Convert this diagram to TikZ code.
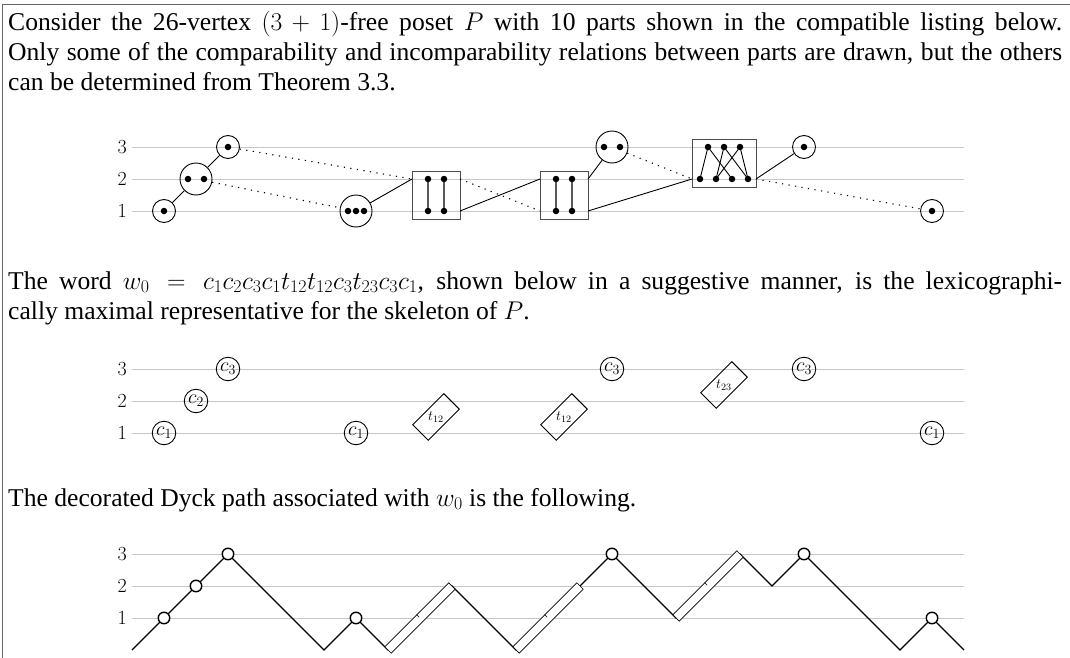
\RequirePackage{fix-cm}
\documentclass[tikz,border=0pt]{standalone}
\usepackage[no-math]{fontspec}
\setmainfont{Liberation Serif}
\usetikzlibrary{calc}
\begin{document}
\begin{tikzpicture}[x=1pt,y=-1pt,
  txt/.style={anchor=base west, inner sep=0, font=\fontsize{25.6}{30}\selectfont},
  lvl/.style={draw=black!22, line width=0.9},
  lbl/.style={anchor=east, inner sep=0, font=\fontsize{20}{20}\selectfont},
  pdot/.style={circle, fill=black, inner sep=0, minimum size=6.5},
  pc/.style={circle, draw, line width=0.9, inner sep=0, minimum size=23},
  pcb/.style={circle, draw, line width=0.9, inner sep=0, minimum size=32},
  pbox/.style={draw=black!70, line width=0.9, inner sep=0},
  rung/.style={draw=black!65, line width=1.3},
  rel/.style={line width=0.9},
  inc/.style={line width=1.1, dash pattern=on 1.2pt off 5.4pt},
  cw/.style={circle, draw, line width=0.9, inner sep=0, minimum size=23.5, font=\fontsize{20}{20}\selectfont},
  tw/.style={draw, rotate=45, minimum width=44, minimum height=22, inner sep=0, line width=0.9, font=\fontsize{14}{14}\selectfont},
  pk/.style={circle, draw, fill=white, line width=1.4, inner sep=0, minimum size=11.5},
  dk/.style={line width=1.3, line join=miter},
  tbox/.style={draw, fill=white, rotate=45, minimum width=90.5, minimum height=9, inner sep=0, line width=0.7},
  tick/.style={line width=0.7}
]
\useasboundingbox (0,0) rectangle (1070,658);
\draw[black!60, line width=1] (1070,5) -- (2.5,5) -- (2.5,658);

% ---------------- text ----------------
\node[txt] (s1) at (8,31) {\makebox[1054pt][s]{Consider the 26-vertex $(3+1)$-free poset $P$ with 10 parts shown in the compatible listing below.}};
\node[txt] (s2) at (8,61) {\makebox[1054pt][s]{Only some of the comparability and incomparability relations between parts are drawn, but the others}};
\node[txt] (s3) at (8,91) {can be determined from Theorem 3.3.};
\node[txt] (s4) at (8,289) {\makebox[1054pt][s]{The word $w_0=c_1c_2c_3c_1t_{12}t_{12}c_3t_{23}c_3c_1$, shown below in a suggestive manner, is the lexicographi-}};
\node[txt] (s5) at (8,319) {cally maximal representative for the skeleton of $P$.};
\node[txt] (s6) at (8,506) {The decorated Dyck path associated with $w_0$ is the following.};

% ---------------- diagram 1 ----------------
\foreach \y/\l in {147/3,179/2,211/1}{
  \draw[lvl] (132,\y) -- (964,\y);
  \node[lbl] (la\l) at (127,\y) {$\l$};
}
\node[pc] (p1) at (164,211) {};
\node[pdot] (p1a) at (164,211) {};
\node[pcb] (p2) at (196,179) {};
\node[pdot] (p2a) at (188,179) {};
\node[pdot] (p2b) at (204,179) {};
\node[pc] (p3) at (228,147) {};
\node[pdot] (p3a) at (228,147) {};
\node[pcb] (p4) at (356,211) {};
\node[pdot] (p4a) at (348,211) {};
\node[pdot] (p4b) at (356,211) {};
\node[pdot] (p4c) at (364,211) {};

\node[pbox, minimum width=48, minimum height=48] (b1) at (436,195) {};
\node[pdot] (b1a) at (428,179) {};
\node[pdot] (b1b) at (444,179) {};
\node[pdot] (b1c) at (428,211) {};
\node[pdot] (b1d) at (444,211) {};
\draw[rung] (b1a) -- (b1c);
\draw[rung] (b1b) -- (b1d);

\node[pbox, minimum width=48, minimum height=48] (b2) at (564,195) {};
\node[pdot] (b2a) at (556,179) {};
\node[pdot] (b2b) at (572,179) {};
\node[pdot] (b2c) at (556,211) {};
\node[pdot] (b2d) at (572,211) {};
\draw[rung] (b2a) -- (b2c);
\draw[rung] (b2b) -- (b2d);

\node[pcb] (p7) at (612,147) {};
\node[pdot] (p7a) at (604,147) {};
\node[pdot] (p7b) at (620,147) {};

\node[pbox, minimum width=64, minimum height=48] (b3) at (724,163) {};
\node[pdot] (u1) at (708,147) {};
\node[pdot] (u2) at (724,147) {};
\node[pdot] (u3) at (740,147) {};
\node[pdot] (v1) at (700,179) {};
\node[pdot] (v2) at (716,179) {};
\node[pdot] (v3) at (732,179) {};
\node[pdot] (v4) at (748,179) {};
\draw[rel] (u1.center) -- (v1.center);
\draw[rel] (u1.center) -- (v3.center);
\draw[rel] (u2.center) -- (v2.center);
\draw[rel] (u2.center) -- (v4.center);
\draw[rel] (u3.center) -- (v2.center);
\draw[rel] (u3.center) -- (v4.center);

\node[pc] (p9) at (804,147) {};
\node[pdot] (p9a) at (804,147) {};
\node[pc] (p10) at (932,211) {};
\node[pdot] (p10a) at (932,211) {};

\coordinate (b1w2) at (412,179);
\coordinate (b1e2) at (460,179);
\coordinate (b1e1) at (460,211);
\coordinate (b2w2) at (540,179);
\coordinate (b2w1) at (540,211);
\coordinate (b2e2) at (588,179);
\coordinate (b2e1) at (588,211);
\coordinate (b3w2) at (692,179);
\coordinate (b3e2) at (756,179);

\draw[rel] (p1) -- (p2);
\draw[rel] (p2) -- (p3);
\draw[inc] (p3) -- (b1w2);
\draw[inc] (p2) -- (p4);
\draw[rel] (p4) -- (b1w2);
\draw[rel] (b1e1) -- (b2w2);
\draw[inc] (b1e2) -- (b2w1);
\draw[rel] (b2e2) -- (p7);
\draw[rel] (b2e1) -- (b3w2);
\draw[inc] (p7) -- (b3w2);
\draw[rel] (b3e2) -- (p9);
\draw[inc] (b3e2) -- (p10);

% ---------------- diagram 2 ----------------
\foreach \y/\l in {369/3,401/2,433/1}{
  \draw[lvl] (132,\y) -- (964,\y);
  \node[lbl] (lb\l) at (127,\y) {$\l$};
}
\node[cw] (w1) at (164,433) {$c_1$};
\node[cw] (w2) at (196,401) {$c_2$};
\node[cw] (w3) at (228,369) {$c_3$};
\node[cw] (w4) at (356,433) {$c_1$};
\node[tw] (w5) at (436,417) {\rotatebox{-45}{$t_{12}$}};
\node[tw] (w6) at (564,417) {\rotatebox{-45}{$t_{12}$}};
\node[cw] (w7) at (612,369) {$c_3$};
\node[tw] (w8) at (724,385) {\rotatebox{-45}{$t_{23}$}};
\node[cw] (w9) at (804,369) {$c_3$};
\node[cw] (w10) at (932,433) {$c_1$};

% ---------------- diagram 3 ----------------
\foreach \y/\l in {554/3,586/2,618/1}{
  \draw[lvl] (132,\y) -- (964,\y);
  \node[lbl] (lc\l) at (127,\y) {$\l$};
}
\draw[dk] (132,650) -- (164,618) -- (196,586) -- (228,554) -- (260,586) -- (292,618) -- (324,650)
  -- (356,618) -- (388,650) -- (420,618) -- (452,586) -- (484,618) -- (516,650) -- (548,618)
  -- (580,586) -- (612,554) -- (644,586) -- (676,618) -- (708,586) -- (740,554) -- (772,586)
  -- (804,554) -- (836,586) -- (868,618) -- (900,650) -- (932,618) -- (964,650);
\node[tbox] (d1) at (420,618) {};
\node[tbox] (d2) at (548,618) {};
\node[tbox] (d3) at (708,586) {};
\draw[tick] (d1.north) -- ($(d1.north)!0.75!(d1.center)$);
\draw[tick] (d2.north) -- ($(d2.north)!0.75!(d2.center)$);
\draw[tick] (d3.north) -- ($(d3.north)!0.75!(d3.center)$);
\node[pk] (k1) at (164,618) {};
\node[pk] (k2) at (196,586) {};
\node[pk] (k3) at (228,554) {};
\node[pk] (k4) at (356,618) {};
\node[pk] (k5) at (612,554) {};
\node[pk] (k6) at (804,554) {};
\node[pk] (k7) at (932,618) {};
\end{tikzpicture}
\end{document}
